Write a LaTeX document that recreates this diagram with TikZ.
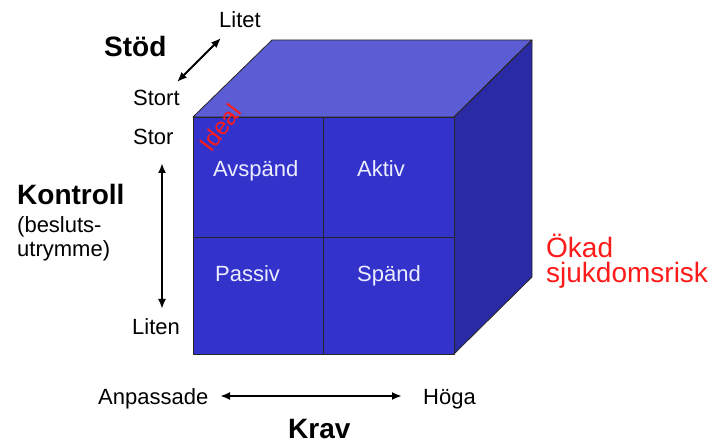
\documentclass[tikz,border=0pt]{standalone}
\usepackage{fontspec}
\setmainfont{Liberation Sans}
\usetikzlibrary{arrows.meta}
\definecolor{frontc}{HTML}{3333CC}
\definecolor{topc}{HTML}{5C5CD4}
\definecolor{sidec}{HTML}{2A2AA4}
\definecolor{celltext}{HTML}{ECECFF}
\definecolor{riskred}{HTML}{FF1A1A}
\tikzset{
  lbl/.style={anchor=base west, inner sep=0pt, font=\fontsize{22}{26}\selectfont, text=black},
  bigl/.style={anchor=base west, inner sep=0pt, font=\fontsize{28}{32}\selectfont\bfseries, text=black},
  cell/.style={anchor=base west, inner sep=0pt, font=\fontsize{22}{26}\selectfont, text=celltext},
  risk/.style={anchor=base west, inner sep=0pt, font=\fontsize{28}{32}\selectfont, text=riskred},
  face/.style={draw=black!85, line width=0.8pt, line join=round},
  axis/.style={{Latex[length=10pt,width=8pt]}-{Latex[length=10pt,width=8pt]}, line width=2.1pt, black}
}
\begin{document}
\begin{tikzpicture}[x=1pt,y=-1pt]
\useasboundingbox (0,0) rectangle (713,443);
% cube
\coordinate (fa) at (193,117);
\coordinate (fb) at (454,117);
\coordinate (fc) at (454,354);
\coordinate (fd) at (193,354);
\coordinate (ta) at (272,40);
\coordinate (tb) at (532,40);
\coordinate (sc) at (532,277);
\fill[topc] (fa) -- (ta) -- (tb) -- (fb) -- cycle;
\fill[sidec] (fb) -- (tb) -- (sc) -- (fc) -- cycle;
\fill[frontc] (fa) rectangle (fc);
\draw[face] (fa) -- (ta) -- (tb) -- (fb) -- cycle;
\draw[face] (fb) -- (tb) -- (sc) -- (fc);
\draw[face] (fa) rectangle (fc);
\coordinate (mt) at (323,117);
\coordinate (mb) at (323,354);
\coordinate (ml) at (193,237);
\coordinate (mr) at (454,237);
\draw[face] (mt) -- (mb);
\draw[face] (ml) -- (mr);
% cell labels
\node[cell] (avs) at (213,177) {Avspänd};
\node[cell] (akt) at (357,177) {Aktiv};
\node[cell] (pas) at (215,282) {Passiv};
\node[cell] (spa) at (357,282) {Spänd};
\node[inner sep=0pt, rotate=53, font=\fontsize{24}{28}\selectfont, text=riskred] (ideal) at (220,128) {Ideal};
% Stöd
\node[lbl] (litet) at (219,28) {Litet};
\node[bigl] (stod) at (104,57) {Stöd};
\node[lbl] (stort) at (133,106) {Stort};
\coordinate (s1) at (177,82);
\coordinate (s2) at (221,38);
\draw[axis] (s1) -- (s2);
% Kontroll
\node[lbl] (stor) at (133,145) {Stor};
\node[bigl] (kon) at (17,205) {Kontroll};
\node[lbl] (bes) at (17,233) {(besluts-};
\node[lbl] (utr) at (17,257) {utrymme)};
\node[lbl] (liten) at (132,335) {Liten};
\coordinate (k1) at (162,163);
\coordinate (k2) at (162,309);
\draw[axis] (k1) -- (k2);
% Krav
\node[lbl] (anp) at (98,405) {Anpassade};
\node[lbl] (hog) at (423,405) {Höga};
\node[bigl] (krav) at (288,439) {Krav};
\coordinate (a1) at (220,396);
\coordinate (a2) at (402,396);
\draw[axis] (a1) -- (a2);
% risk
\node[risk] (okad) at (546,258) {Ökad};
\node[risk] (sjuk) at (546,283) {sjukdomsrisk};
\end{tikzpicture}
\end{document}
